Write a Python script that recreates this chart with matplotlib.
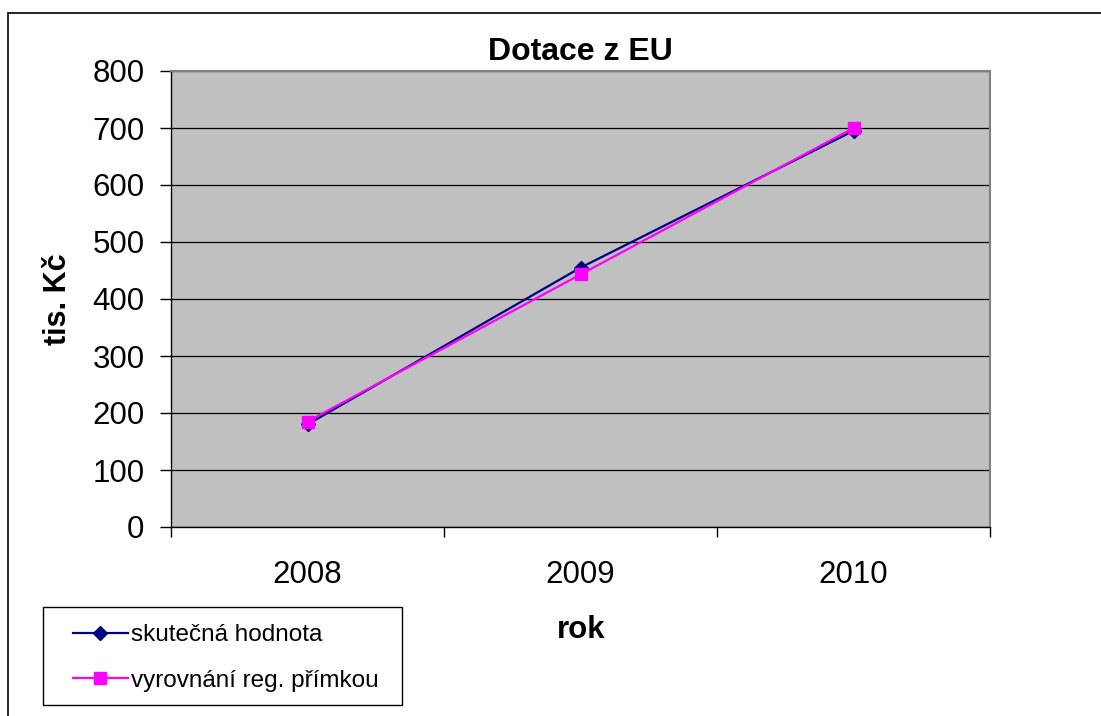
import matplotlib
matplotlib.use("Agg")
import matplotlib.pyplot as plt
from matplotlib.patches import Rectangle

# data
roky = ["2008", "2009", "2010"]
skutecna = [180, 455, 695]
regrese = [185, 443, 700]
y_ticks = [0, 100, 200, 300, 400, 500, 600, 700, 800]

plt.rcParams['font.family'] = ['Liberation Sans', 'DejaVu Sans']

fig = plt.figure(figsize=(11.01, 7.16), dpi=100)
# outer chart frame (only left and top visible in the picture)
fig.patches.append(Rectangle((8 / 1101, -0.1), 1.2, 0.1 + (716 - 13) / 716,
                             transform=fig.transFigure, fill=False,
                             edgecolor='black', linewidth=1.2))

ax = fig.add_axes([171 / 1101, (716 - 527) / 716, (990 - 171) / 1101, (527 - 71) / 716])
ax.set_facecolor('#C0C0C0')

x = [i + 0.5 for i in range(len(roky))]
ax.plot(x, skutecna, color='#000080', marker='D', markersize=7, linewidth=1.6,
        label='skutečná hodnota', zorder=3)
ax.plot(x, regrese, color='#FF00FF', marker='s', markersize=9, linewidth=1.6,
        label='vyrovnání reg. přímkou', zorder=4)

ax.set_xlim(0, 3)
ax.set_ylim(0, 800)
ax.set_yticks(y_ticks)
ax.set_xticks([0, 1, 2, 3])
ax.set_xticklabels([])
ax.set_xticks(x, minor=True)
ax.set_xticklabels(roky, minor=True)
ax.tick_params(axis='x', which='minor', length=0, pad=24, labelsize=22.5)
ax.tick_params(axis='x', which='major', length=7.5, width=1, direction='out')
ax.tick_params(axis='y', length=8, width=1, direction='out', labelsize=22.5, pad=11)
ax.yaxis.grid(True, color='black', linewidth=0.9)
ax.set_axisbelow(True)

for s in ['top', 'right']:
    ax.spines[s].set_color('#808080')
    ax.spines[s].set_linewidth(1.5)
for s in ['left', 'bottom']:
    ax.spines[s].set_color('black')
    ax.spines[s].set_linewidth(1.0)

ax.set_title('Dotace z EU', fontsize=23, fontweight='bold', pad=8)
ax.set_ylabel('tis. Kč', fontsize=22, fontweight='bold', labelpad=14)
fig.text(581 / 1101, 1 - 630 / 716, 'rok', fontsize=22.5, fontweight='bold',
         ha='center', va='center')

# legend frame drawn separately, legend entries placed inside it
fig.patches.append(Rectangle((43 / 1101, 1 - 705 / 716), (402 - 43) / 1101, (705 - 607) / 716,
                             transform=fig.transFigure, facecolor='white',
                             edgecolor='black', linewidth=1.0))
leg = fig.legend(loc='center left', bbox_to_anchor=(73 / 1101, 1 - 658 / 716),
                 fontsize=17.5, frameon=False, borderpad=0, labelspacing=0.95,
                 handlelength=2.25, handletextpad=0.15, borderaxespad=0)

fig.savefig('out.png', dpi=100)
